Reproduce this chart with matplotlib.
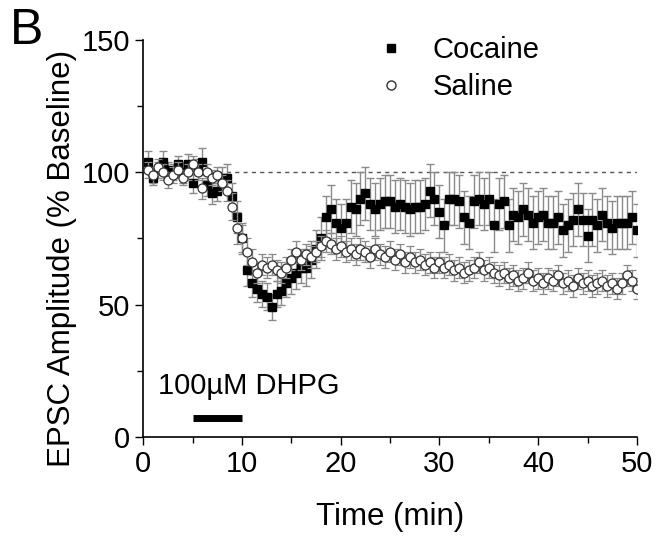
import numpy as np
import matplotlib
matplotlib.use("Agg")
import matplotlib.pyplot as plt
from matplotlib.lines import Line2D

plt.rcParams["font.family"] = ["Liberation Sans", "DejaVu Sans"]

# time points (min), one every 30 s
time = np.arange(1, 101) * 0.5

# cocaine group, % baseline
cocaine = [104, 98, 101, 104, 101, 100, 103, 100, 103, 96,
           102, 104, 95, 92, 93, 98, 98, 91, 83, 75,
           63, 58, 56, 54, 53, 49, 54, 55, 58, 60,
           62, 64, 64, 67, 71, 75, 83, 86, 81, 79,
           81, 87, 86, 90, 92, 88, 86, 88, 89, 89,
           87, 88, 87, 86, 87, 87, 88, 93, 90, 85,
           80, 90, 90, 89, 83, 81, 89, 90, 88, 90,
           80, 88, 89, 80, 84, 83, 86, 84, 81, 83,
           84, 81, 81, 83, 78, 80, 82, 86, 82, 76,
           82, 80, 84, 81, 79, 81, 81, 81, 83, 78]
cocaine_err = [4, 3, 3, 4, 3, 3, 3, 4, 4, 4,
               3, 5, 4, 4, 4, 4, 5, 5, 6, 6,
               6, 5, 5, 5, 5, 5, 5, 5, 5, 6,
               6, 6, 7, 7, 7, 8, 8, 9, 9, 9,
               9, 10, 10, 10, 10, 10, 10, 10, 10, 10,
               10, 10, 10, 10, 10, 10, 10, 10, 10, 10,
               10, 10, 10, 10, 10, 10, 10, 10, 10, 10,
               10, 10, 10, 10, 10, 10, 10, 10, 10, 10,
               10, 10, 10, 10, 10, 10, 10, 10, 10, 10,
               10, 10, 10, 10, 10, 10, 10, 10, 10, 10]

# saline group, % baseline
saline = [101, 99, 102, 100, 97, 99, 101, 98, 100, 103,
          100, 94, 100, 98, 99, 96, 93, 87, 79, 75,
          70, 66, 62, 65, 64, 65, 63, 62, 64, 67,
          70, 67, 69, 68, 70, 72, 74, 73, 71, 72,
          70, 71, 69, 71, 70, 68, 71, 69, 68, 70,
          67, 69, 66, 68, 66, 67, 65, 66, 64, 66,
          64, 65, 63, 64, 62, 63, 64, 66, 63, 64,
          62, 61, 62, 60, 61, 59, 60, 62, 59, 60,
          58, 60, 59, 61, 58, 59, 57, 60, 58, 59,
          57, 58, 59, 57, 58, 56, 58, 61, 59, 56]
saline_err = [3, 3, 3, 3, 3, 3, 3, 3, 3, 3,
              3, 4, 3, 3, 3, 3, 4, 5, 6, 5,
              5, 5, 4, 4, 4, 4, 4, 4, 4, 4,
              4, 4, 4, 4, 4, 4, 4, 4, 4, 4,
              4, 4, 4, 4, 4, 4, 4, 4, 4, 4,
              4, 4, 4, 4, 4, 4, 4, 4, 4, 4,
              4, 4, 4, 4, 4, 4, 4, 4, 4, 4,
              4, 4, 4, 4, 4, 4, 4, 4, 4, 4,
              4, 4, 4, 4, 4, 4, 4, 4, 4, 4,
              4, 4, 4, 4, 4, 4, 4, 4, 4, 4]

drug_on, drug_off = 5, 10

fig = plt.figure(figsize=(6.6, 5.4), dpi=100)
ax = fig.add_axes([0.217, 0.191, 0.748, 0.735])

ax.axhline(100, color="#555555", lw=1, ls=(0, (3, 3)), zorder=1)

ax.errorbar(time, cocaine, yerr=cocaine_err, fmt="s", ms=6,
            mfc="black", mec="black", ecolor="#8a8a8a", elinewidth=1,
            capsize=3, capthick=1, zorder=2)
ax.errorbar(time, saline, yerr=saline_err, fmt="o", ms=6.5,
            mfc="white", mec="#333333", mew=0.9, ecolor="#8a8a8a",
            elinewidth=1, capsize=3, capthick=1, zorder=3)

# DHPG application bar
ax.plot([drug_on, drug_off], [7, 7], color="black", lw=5,
        solid_capstyle="butt", zorder=4)
ax.text(1.5, 14, "100\u00b5M DHPG", fontsize=21, ha="left", va="bottom")

ax.set_xlim(0, 50)
ax.set_ylim(0, 150)
ax.set_xticks(np.arange(0, 51, 10))
ax.set_xticks(np.arange(5, 50, 10), minor=True)
ax.set_yticks([0, 50, 100, 150])
ax.set_yticks([25, 75, 125], minor=True)
ax.tick_params(which="both", direction="out", width=1, labelsize=21)
ax.tick_params(which="major", length=6)
ax.tick_params(which="minor", length=4)
for s in ["top", "right"]:
    ax.spines[s].set_visible(False)
for s in ["left", "bottom"]:
    ax.spines[s].set_linewidth(1.2)

ax.set_xlabel("Time (min)", fontsize=22.5, labelpad=17)
ax.set_ylabel("EPSC Amplitude (% Baseline)", fontsize=22.5)
ax.yaxis.set_label_coords(-0.135, 0.45)

handles = [Line2D([], [], ls="none", marker="s", ms=6, mfc="black", mec="black"),
           Line2D([], [], ls="none", marker="o", ms=6.5, mfc="white", mec="#333333")]
ax.legend(handles, ["Cocaine", "Saline"], loc="upper left",
          bbox_to_anchor=(0.42, 1.075), frameon=False, fontsize=21,
          handletextpad=0.9, labelspacing=0.3, handlelength=1.0)

fig.text(0.015, 0.985, "B", fontsize=36, ha="left", va="top")

fig.savefig("out.png", dpi=100)
